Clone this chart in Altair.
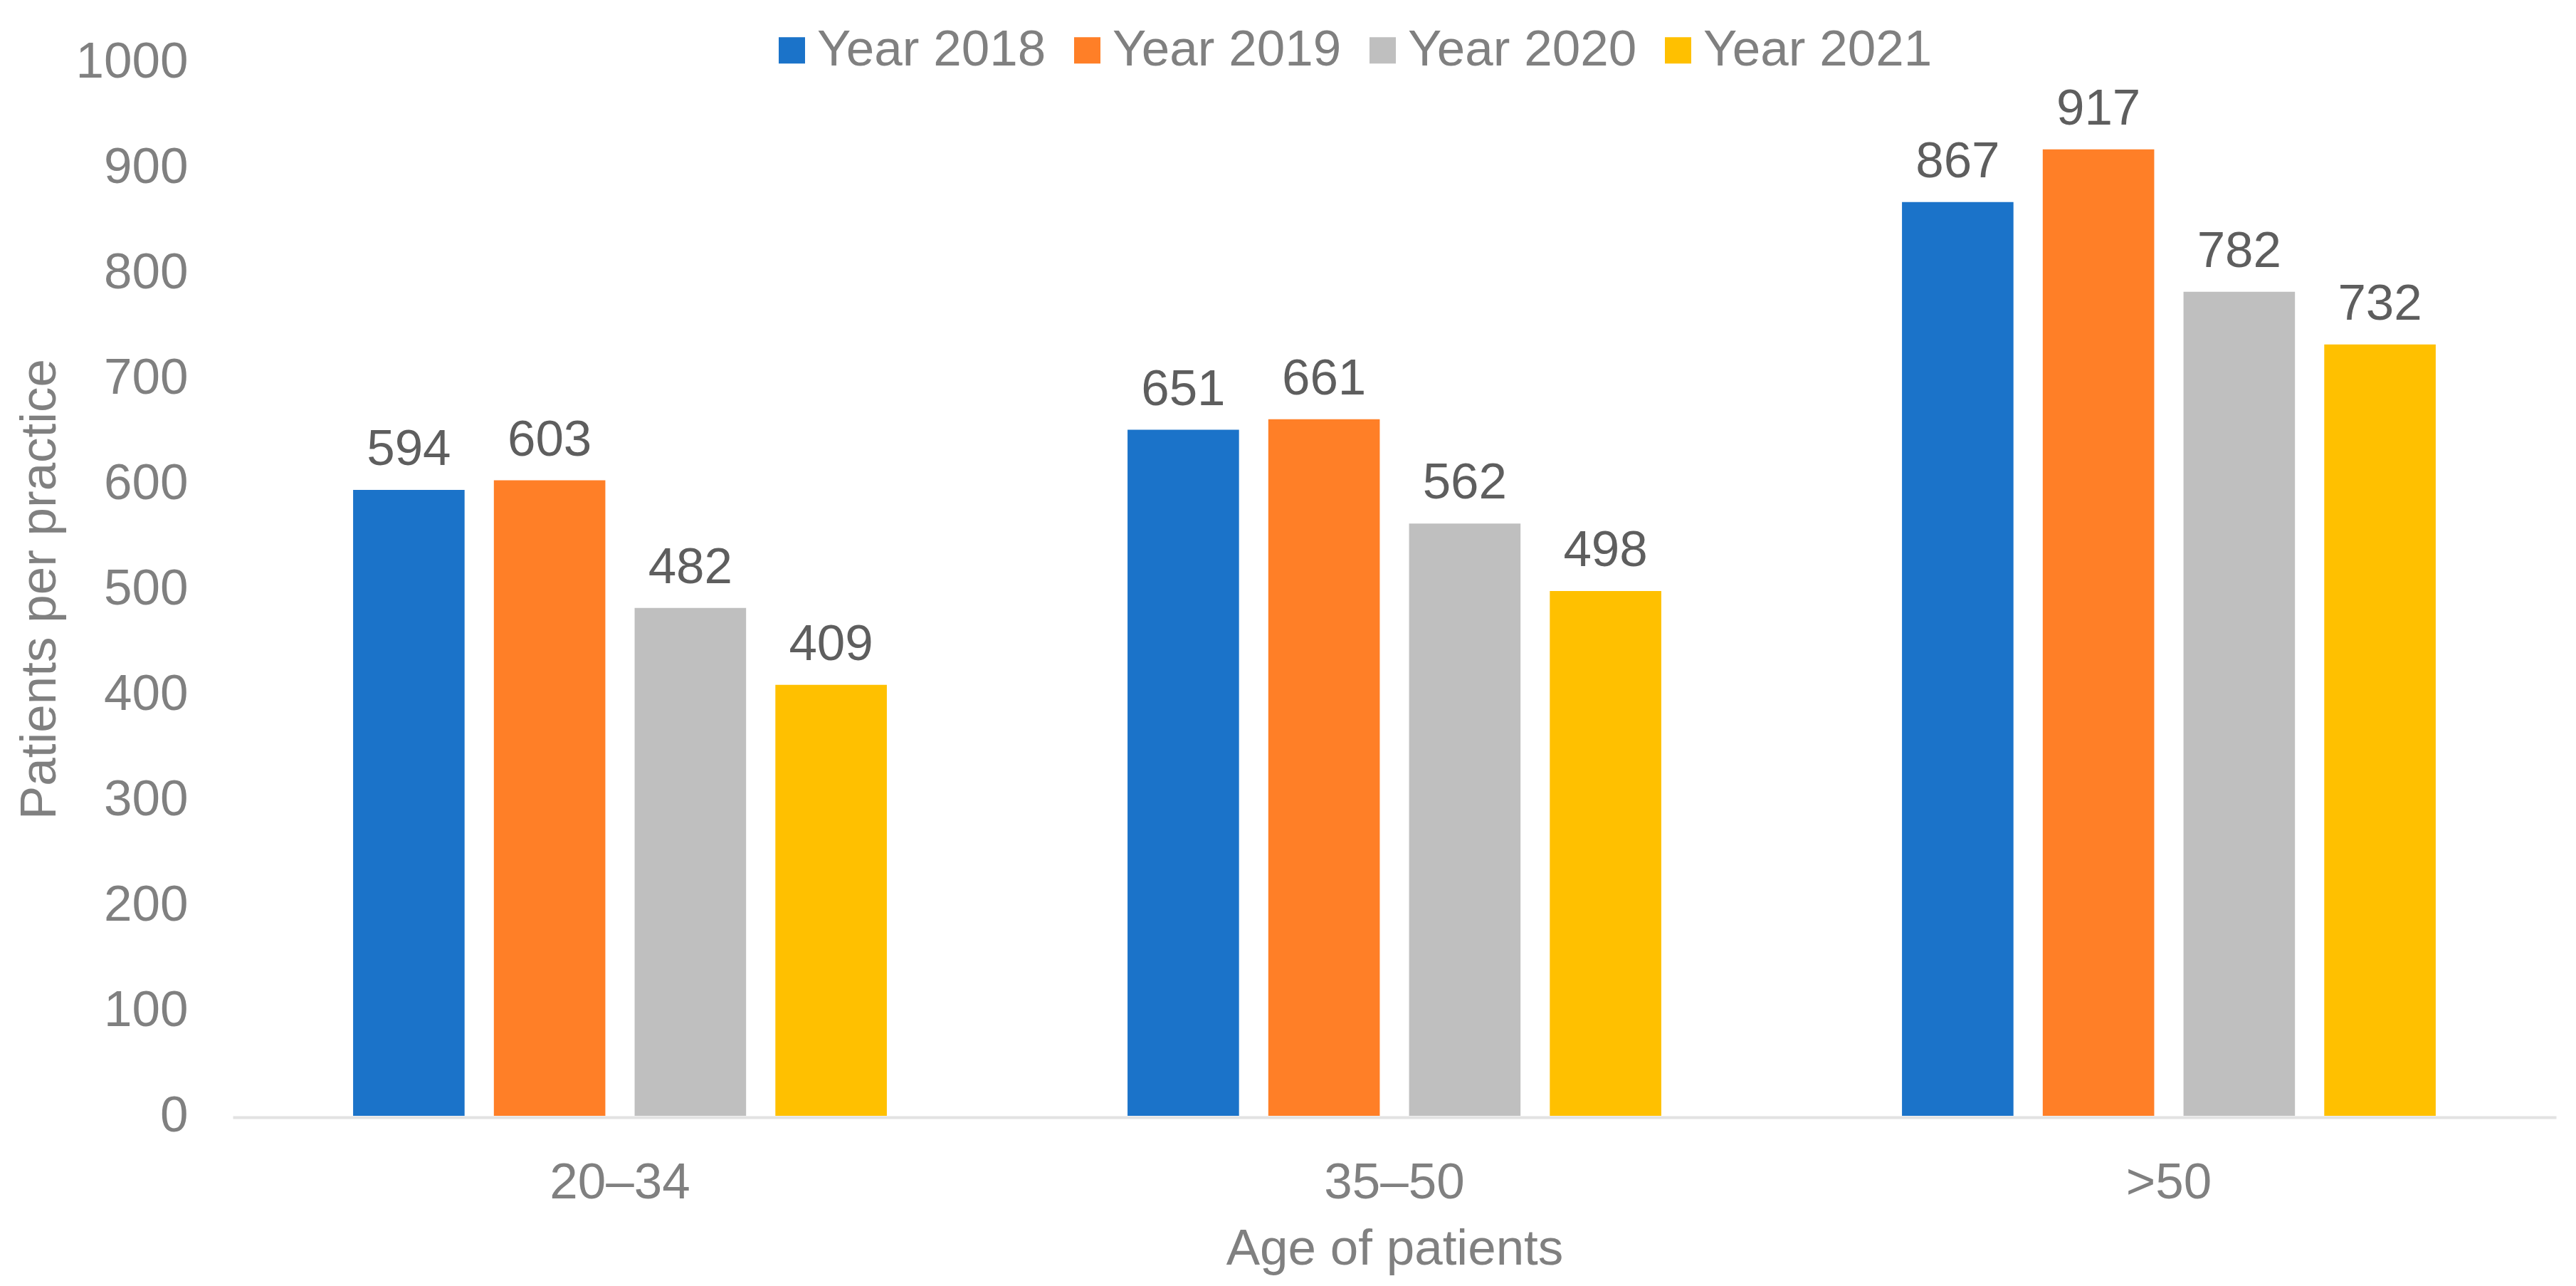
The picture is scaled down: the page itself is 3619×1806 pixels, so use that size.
import altair as alt
import pandas as pd

ages = ["20–34", "35–50", ">50"]
years = ["Year 2018", "Year 2019", "Year 2020", "Year 2021"]
v2018 = [594, 651, 867]
v2019 = [603, 661, 917]
v2020 = [482, 562, 782]
v2021 = [409, 498, 732]
colors = ["#1B73C9", "#FF7F27", "#BFBFBF", "#FFC000"]
y_ticks = list(range(0, 1001, 100))

rows = []
for yr, vals in zip(years, [v2018, v2019, v2020, v2021]):
    for a, v in zip(ages, vals):
        rows.append({"age": a, "year": yr, "value": v})
df = pd.DataFrame(rows)

FONT = "Liberation Sans"
AX = "#808080"
FS = 71

x = alt.X(
    "age:N", sort=ages, title="Age of patients",
    scale=alt.Scale(paddingInner=0.273, paddingOuter=0.1365),
    axis=alt.Axis(
        labelAngle=0, labelFont=FONT, labelFontSize=FS, labelColor=AX, labelLimit=2000,
        titleFont=FONT, titleFontSize=FS, titleColor=AX, titleFontWeight="normal",
        ticks=False, tickSize=0, labelPadding=57, titlePadding=23,
        domainColor="#E2E2E2", domainWidth=4, offset=2, grid=False,
    ),
)
xo = alt.XOffset("year:N", sort=years,
                 scale=alt.Scale(paddingInner=0.208, paddingOuter=0.104))
y = alt.Y(
    "value:Q", title="Patients per practice",
    scale=alt.Scale(domain=[0, 1000], nice=False),
    axis=alt.Axis(
        values=y_ticks, format="d", labelFont=FONT, labelFontSize=FS, labelColor=AX,
        titleFont=FONT, titleFontSize=FS, titleColor=AX, titleFontWeight="normal",
        ticks=False, tickSize=0, domain=False, grid=False,
        labelPadding=63, titlePadding=35,
    ),
)
color = alt.Color(
    "year:N", sort=years,
    scale=alt.Scale(domain=years, range=colors),
    legend=alt.Legend(
        title=None, orient="none", direction="horizontal", columns=4,
        legendX=750, legendY=-52, padding=0,
        symbolType="square", symbolSize=1369, symbolStrokeWidth=0,
        labelFont=FONT, labelFontSize=FS, labelColor=AX, labelLimit=2000,
        labelOffset=0, columnPadding=22,
    ),
)

base = alt.Chart(df).encode(x=x, xOffset=xo, y=y)
bars = base.mark_bar().encode(color=color)
labels = base.mark_text(
    baseline="alphabetic", dy=-35, fontSize=FS, font=FONT, color="#5E5E5E"
).encode(text="value:Q")

chart = (
    alt.layer(bars, labels)
    .properties(
        width=3264, height=1480, autosize="none",
        padding={"left": 319, "top": 79, "right": 20, "bottom": 231},
    )
    .configure_view(stroke=None)
)

chart.save("out.html", embed_options={"renderer": "svg", "actions": False})
